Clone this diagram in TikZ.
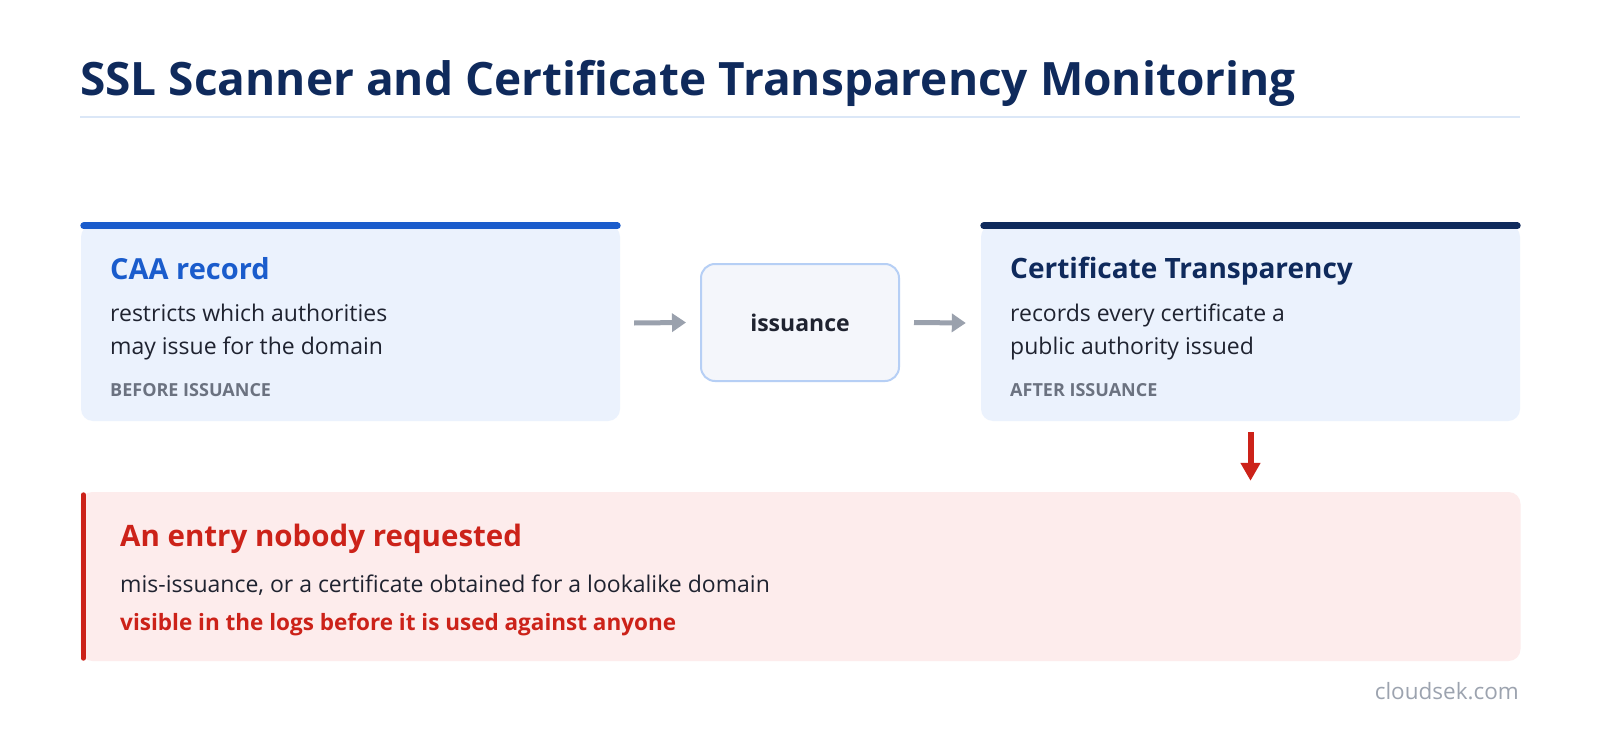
\documentclass[tikz,border=0pt]{standalone}
\usepackage{fontspec}
\setmainfont{Open Sans}
\usetikzlibrary{arrows.meta}
\definecolor{navy}{HTML}{0F2A5C}
\definecolor{rulec}{HTML}{DBE7F7}
\definecolor{blueA}{HTML}{1A5CCC}
\definecolor{cardfill}{HTML}{EBF2FD}
\definecolor{labelgray}{HTML}{6B7280}
\definecolor{bodytext}{HTML}{1F2330}
\definecolor{issfill}{HTML}{F4F6FB}
\definecolor{issborder}{HTML}{B6CFF5}
\definecolor{arrowgray}{HTML}{9AA1AD}
\definecolor{redA}{HTML}{CC2219}
\definecolor{alertfill}{HTML}{FDECEC}
\definecolor{footgray}{HTML}{9CA3AF}
\tikzset{
  card/.style={fill=cardfill, rounded corners=12pt, inner sep=0pt},
  issbox/.style={fill=issfill, draw=issborder, line width=2pt, rounded corners=14pt, inner sep=0pt, font=\bfseries\fontsize{23}{27}\selectfont, text=bodytext},
  alertbox/.style={fill=alertfill, rounded corners=12pt, inner sep=0pt},
  txt/.style={anchor=base west, inner sep=0pt},
  cardtitle/.style={txt, font=\bfseries\fontsize{29}{34}\selectfont},
  body/.style={txt, font=\fontsize{23}{28}\selectfont, text=bodytext},
  tag/.style={txt, font=\bfseries\fontsize{18}{22}\selectfont, text=labelgray},
  garrow/.style={draw=arrowgray, line width=5pt, -{Triangle[length=14pt,width=18pt]}},
  rarrow/.style={draw=redA, line width=6pt, -{Triangle[length=18pt,width=19pt]}},
}
\begin{document}
\begin{tikzpicture}[x=1pt,y=-1pt]
\useasboundingbox[fill=white] (0,0) rectangle (1600,730);
% title
\node[txt, font=\bfseries\fontsize{46}{52}\selectfont, text=navy] (title) at (80,96) {SSL Scanner and Certificate Transparency Monitoring};
\coordinate (rl) at (80,117);
\coordinate (rr) at (1520,117);
\draw[rulec, line width=2.5pt] (rl) -- (rr);
% cards
\node[card, minimum width=539pt, minimum height=196pt] (caa) at (350.5,323) {};
\draw[blueA, line width=7pt, line cap=round] ([xshift=3pt,yshift=-1pt]caa.north west) -- ([xshift=-3pt,yshift=-1pt]caa.north east);
\node[cardtitle, text=blueA] (caat) at (110,279) {CAA record};
\node[body] (caab1) at (110,321) {restricts which authorities};
\node[body] (caab2) at (110,354) {may issue for the domain};
\node[tag] (caag) at (110,396) {BEFORE ISSUANCE};

\node[issbox, minimum width=198pt, minimum height=117pt] (iss) at (800,322.5) {issuance};

\node[card, minimum width=539pt, minimum height=196pt] (ct) at (1250.5,323) {};
\draw[navy, line width=7pt, line cap=round] ([xshift=3pt,yshift=-1pt]ct.north west) -- ([xshift=-3pt,yshift=-1pt]ct.north east);
\node[cardtitle, text=navy, font=\bfseries\fontsize{28}{33}\selectfont] (ctt) at (1010,278) {Certificate Transparency};
\node[body] (ctb1) at (1010,321) {records every certificate a};
\node[body] (ctb2) at (1010,354) {public authority issued};
\node[tag] (ctg) at (1010,396) {AFTER ISSUANCE};

\draw[garrow] ([xshift=14pt]caa.east) -- ([xshift=-14pt]iss.west);
\draw[garrow] ([xshift=14pt]iss.east) -- ([xshift=-15pt]ct.west);

% alert
\node[alertbox, minimum width=1440pt, minimum height=169pt] (alert) at (800.5,576.5) {};
\draw[redA, line width=5pt, line cap=round] ([xshift=3pt,yshift=-3pt]alert.north west) -- ([xshift=3pt,yshift=3pt]alert.south west);
\draw[rarrow] ([yshift=-11pt]ct.south) -- ([yshift=11pt]ct.south |- alert.north);
\node[cardtitle, text=redA, font=\bfseries\fontsize{29.5}{34}\selectfont] (alt) at (120,546) {An entry nobody requested};
\node[body] (alb) at (120,592) {mis-issuance, or a certificate obtained for a lookalike domain};
\node[txt, font=\bfseries\fontsize{22.5}{26}\selectfont, text=redA] (alr) at (120,630) {visible in the logs before it is used against anyone};

\node[anchor=base east, inner sep=0pt, font=\fontsize{22.5}{26}\selectfont, text=footgray] (foot) at (1519,699) {cloudsek.com};
\end{tikzpicture}
\end{document}
